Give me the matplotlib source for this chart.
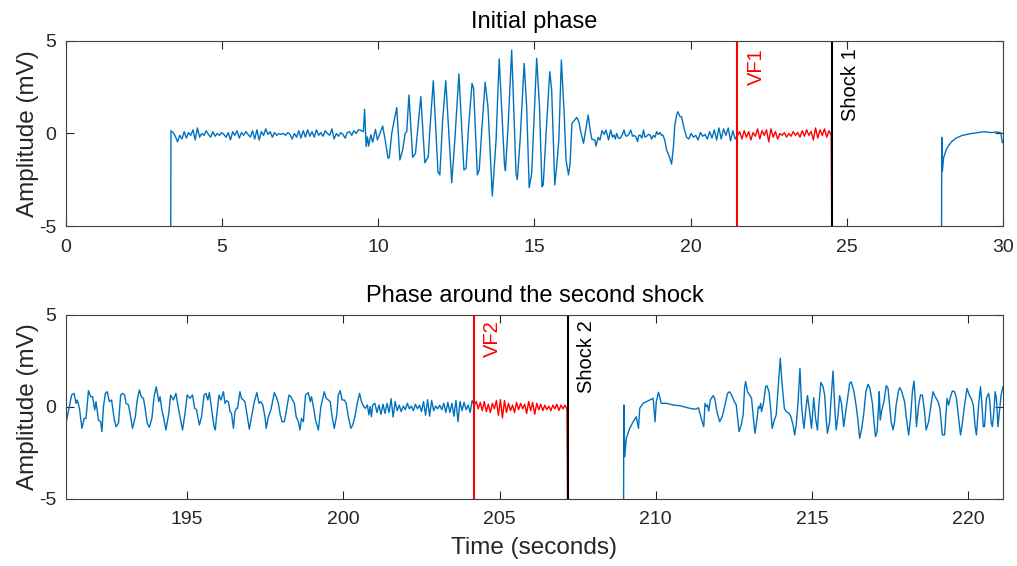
import numpy as np
import matplotlib
matplotlib.use("Agg")
import matplotlib.pyplot as plt

plt.rcParams['font.family'] = ['Liberation Sans', 'DejaVu Sans']
plt.rcParams['axes.unicode_minus'] = False

BLUE = '#0072BD'

# ---------------- top panel: initial phase (time in s, amplitude in mV) ----------------
vf1_time = 21.5
shock1_time = 24.53

top_onset_t = [3.35]
top_onset_v = [-8.0]

# low-level baseline before the arrhythmia, evenly sampled between the span ends
top_base_span = (3.36, 9.36)
top_base_v = [0.15, 0.05, -0.15, -0.45, -0.1, -0.3, 0.1, -0.25, 0.05, -0.1, 0.2, -0.35, 0.3, -0.2,
              0.0, -0.1, 0.15, -0.05, -0.2, 0.1, -0.15, 0.0, -0.1, 0.05, -0.05, -0.2, 0.05, -0.35,
              0.1, -0.1, 0.15, -0.25, 0.05, -0.1, 0.1, -0.05, -0.2, 0.15, -0.3, 0.2, -0.35, 0.1,
              -0.1, 0.25, -0.05, 0.1, -0.2, 0.05, -0.1, 0.0, -0.05, 0.0, -0.1, 0.05, -0.05, -0.3,
              0.0, -0.2, 0.15, -0.25, 0.15, -0.2, 0.2, -0.15, 0.1, -0.2, 0.2, -0.1, 0.05, -0.15,
              0.15, 0.0, -0.1, 0.25, -0.3, 0.0, -0.15, 0.05, -0.05, -0.25, 0.05, 0.1, -0.1, 0.15,
              0.0, 0.2]

# large oscillations 9.4 - 17.4 s
top_vt_t = [9.41, 9.52, 9.56, 9.61, 9.65, 9.69, 9.76, 9.82, 9.91, 9.97, 10.03, 10.14, 10.22, 10.31,
            10.35, 10.43, 10.48, 10.59, 10.69, 10.78, 10.86, 10.91, 10.98, 11.10, 11.19, 11.25,
            11.36, 11.49, 11.60, 11.65, 11.76, 11.91, 11.97, 12.06, 12.16, 12.35, 12.45, 12.58,
            12.74, 12.81, 12.89, 13.00, 13.05, 13.17, 13.23, 13.32, 13.42, 13.51, 13.65, 13.77,
            13.87, 14.04, 14.07, 14.16, 14.27, 14.41, 14.45, 14.54, 14.67, 14.75, 14.83, 14.91,
            15.07, 15.16, 15.24, 15.28, 15.39, 15.49, 15.55, 15.65, 15.71, 15.78, 15.86, 15.95,
            16.01, 16.09, 16.14, 16.20, 16.27, 16.35, 16.42, 16.48, 16.57, 16.63, 16.72, 16.78,
            16.84, 16.93, 16.97, 17.04, 17.10, 17.16, 17.23, 17.29]
top_vt_v = [0.19, 0.1, 1.31, -0.71, -0.18, -0.68, -0.07, -0.47, 0.22, -0.35, -0.08, 0.40, -0.35, -1.34,
            -1.29, 0.01, 0.46, 1.40, -1.43, -0.89, 0.01, 0.1, 2.08, -1.29, -1.07, 0.01,
            1.99, -1.58, -1.25, 0.19, 2.85, -2.06, -2.24, 0.73, 2.85, -2.66, -0.35, 3.22,
            -1.97, -1.88, 0.37, 2.71, 2.44, -2.24, -1.97, 0.37, 2.77, 1.45, -3.38, -0.35,
            4.03, -1.70, -2.01, 0.55, 4.51, -2.19, -2.49, -0.35, 3.79, 1.45, -2.93, -2.16,
            4.06, 1.45, -2.87, -2.78, 0.55, 3.34, 2.35, -2.78, -1.79, -0.35, 3.97, 1.09,
            -1.43, -2.24, -1.61, 0.55, 0.69, 0.87, 0.64, 0.1, -0.53, 0.1, 1.0, 0.19,
            -0.32, -0.35, -0.68, -0.21, -0.35, 0.16, -0.05, 0.19]

top_mid_t = [17.37, 17.44, 17.50, 17.55, 17.59, 17.63, 17.69, 17.74, 17.80, 17.87, 17.91, 17.95, 18.02,
             18.08, 18.14, 18.19, 18.25, 18.30, 18.34, 18.38, 18.44, 18.49, 18.54, 18.59, 18.65,
             18.70, 18.75, 18.81, 18.86, 18.91, 18.96, 19.02, 19.07, 19.11, 19.17, 19.23, 19.32,
             19.39, 19.45, 19.49, 19.55, 19.59, 19.66, 19.71, 19.76, 19.82, 19.87]
top_mid_v = [-0.35, 0.19, -0.2, -0.08, -0.3, 0.0, -0.25, -0.27, -0.1, 0.19, -0.1, -0.15, -0.05,
             0.19, -0.15, -0.1, -0.2, -0.44, -0.1, -0.08, -0.25, 0.19, -0.2, -0.15, -0.05,
             -0.08, -0.3, -0.1, -0.2, 0.1, -0.05, 0.05, -0.1, -0.08, -0.35, -0.89, -1.25,
             -1.65, -0.7, 0.40, 1.0, 1.18, 0.91, 0.9, 0.5, 0.1, -0.2]

top_pre_vf_span = (19.94, 21.5)
top_pre_vf_v = [-0.3, 0.0, -0.2, -0.1, -0.35, 0.05, -0.15, -0.05, -0.3, 0.1, -0.25, 0.2, -0.35,
                0.3, -0.3, 0.25, -0.1, 0.3, -0.4, 0.15, -0.3, -0.1]

top_vf_span = (21.5, 24.5)
top_vf_v = [-0.1, 0.1, -0.3, 0.15, -0.2, 0.1, -0.35, 0.05, -0.15, 0.25, -0.3, 0.15, -0.1, 0.2, -0.45,
            0.25, -0.2, 0.1, -0.3, 0.0, -0.1, 0.05, -0.2, 0.0, -0.15, 0.1, -0.1, 0.05, -0.2, 0.15,
            -0.15, 0.2, -0.1, 0.1, -0.35, 0.3, -0.25, 0.2, -0.1, 0.25, -0.2, 0.15, -0.1]
top_vf_end_t = [24.53]
top_vf_end_v = [-8.0]

top_post_t = [28.03, 28.04, 28.06, 28.1, 28.2, 28.35, 28.5, 28.7, 29.0, 29.2, 29.4, 29.6, 29.8,
              29.93, 29.98, 30.0]
top_post_v = [-8.0, -0.2, -2.05, -1.3, -0.8, -0.45, -0.25, -0.1, 0.0, 0.05, 0.1, 0.05, 0.08,
              0.05, -0.5, -0.45]

# ---------------- bottom panel: around the second shock ----------------
vf2_time = 204.19
shock2_time = 207.19

bot_pre_t = [191.12, 191.30, 191.38, 191.44, 191.48, 191.55, 191.63, 191.70, 191.76, 191.84,
             191.91, 191.97, 192.04, 192.08, 192.16, 192.23, 192.27, 192.32, 192.38, 192.44,
             192.51, 192.58, 192.66, 192.72, 192.80, 192.87, 192.93, 193.00, 193.04, 193.12,
             193.19, 193.25, 193.34, 193.40, 193.47, 193.53, 193.60, 193.66, 193.72, 193.79,
             193.87, 193.94, 194.01, 194.09, 194.13, 194.19, 194.26, 194.32, 194.41, 194.47,
             194.56, 194.64, 194.70, 194.77, 194.85, 194.93, 195.00, 195.09, 195.17, 195.24,
             195.30, 195.39, 195.46, 195.54, 195.60, 195.66, 195.71, 195.78, 195.86, 195.90,
             195.94, 196.02, 196.08, 196.16, 196.21, 196.26, 196.32, 196.37, 196.42, 196.48,
             196.53, 196.58, 196.61, 196.69, 196.74, 196.80, 196.85, 196.90, 196.99, 197.06,
             197.15, 197.23, 197.30, 197.36, 197.42, 197.49, 197.53, 197.60, 197.68, 197.79,
             197.85, 197.92, 197.98, 198.04, 198.11, 198.18, 198.26, 198.32, 198.36, 198.43,
             198.49, 198.56, 198.61, 198.66, 198.72, 198.79, 198.88, 198.94, 198.98, 199.05,
             199.11, 199.20, 199.28, 199.39, 199.45, 199.52, 199.58, 199.64, 199.71, 199.79,
             199.84, 199.90, 199.96, 200.03, 200.09, 200.16, 200.24, 200.30, 200.37, 200.45,
             200.52, 200.58, 200.65, 200.71, 200.77, 200.82, 200.86, 200.90, 200.94, 201.01]
bot_pre_v = [-0.89, 0.65, 0.74, 0.20, 0.38, -0.07, -1.16, -0.62, -0.62, 0.89,
             0.56, 0.56, -0.16, 0.29, -0.71, -0.80, -1.34, 0.02, 0.74, 0.83,
             0.29, 0.38, -0.62, -1.07, -0.89, 0.65, 0.74, 0.65, 0.20, 0.11,
             -0.53, -1.16, -0.53, 0.38, 0.92, 0.56, 0.47, -0.16, -0.89, -1.10,
             -0.62, 0.56, 1.10, 0.29, 0.56, -0.16, -0.71, -1.25, -0.35, 0.65,
             0.38, 0.74, 0.11, -0.53, -1.25, -0.35, 0.65, 0.47, 0.65, -0.07,
             -0.16, -0.98, -0.53, 0.65, 0.74, 0.38, 0.78, -0.07, -1.07, -1.25,
             -0.53, 0.65, 0.38, 0.83, 0.20, 0.34, 0.29, -0.25, -0.35, -1.16,
             -0.25, -0.07, -0.07, 0.83, 0.47, 0.38, 0.29, -0.25, -1.21, -0.53,
             0.29, 0.78, 0.20, 0.29, 0.11, -0.53, -1.16, -0.53, -0.16, 0.78,
             0.56, 0.20, -0.43, -0.80, -0.80, -0.16, 0.65, 0.56, 0.42, 0.20,
             -0.53, -0.80, -1.25, -0.62, -0.80, 0.65, 0.78, 0.29, 0.56, -0.07,
             -0.71, -1.25, 0.02, 0.83, 0.47, 0.38, 0.29, -0.53, -1.16, -0.43,
             0.65, 0.89, 0.38, 0.38, 0.20, -0.53, -1.16, -0.98, -0.53, 0.23,
             0.74, 0.29, 0.02, -0.07, 0.11, -0.43, 0.02, -0.53, 0.11, 0.20]

bot_pre_vf_span = (201.01, 204.19)
bot_pre_vf_v = [0.2, -0.3, 0.1, -0.4, 0.15, -0.35, 0.2, -0.3, 0.45, -0.55, 0.3, -0.2, 0.1, -0.25,
                0.05, -0.15, 0.2, -0.1, 0.05, -0.2, 0.15, -0.1, 0.1, -0.25, 0.3, -0.45, 0.4, -0.5,
                0.35, -0.2, 0.05, -0.1, 0.1, -0.15, 0.2, -0.3, 0.25, -0.3, 0.2, -0.5, 0.35, -0.8,
                0.3, -0.2, 0.25, -0.15, 0.1, -0.3, 0.35, 0.1]

bot_vf_span = (204.19, 207.16)
bot_vf_v = [0.1, 0.3, -0.1, 0.25, -0.2, 0.3, -0.25, 0.15, -0.3, 0.2, -0.1, 0.35, -0.45, 0.4, -0.6,
            0.35, -0.3, 0.2, -0.2, 0.1, -0.3, 0.25, -0.15, 0.2, -0.1, 0.15, -0.35, 0.3, -0.2, 0.25,
            -0.4, 0.2, -0.15, 0.15, -0.2, 0.1, -0.15, 0.05, -0.2, 0.1, -0.1, 0.15, -0.2, 0.1, -0.1,
            0.1, -0.1]
bot_vf_end_t = [207.19]
bot_vf_end_v = [-8.0]

bot_post_t = [208.97, 208.98, 209.01, 209.06, 209.17, 209.28, 209.38, 209.45, 209.49, 209.60,
              209.70, 209.81, 209.92, 209.98, 210.02, 210.09, 210.18, 210.34, 210.56, 210.77,
              211.09, 211.20, 211.30, 211.37, 211.43, 211.49, 211.54, 211.58, 211.62, 211.66,
              211.70, 211.75, 211.84, 211.89, 211.96, 212.05, 212.13, 212.22, 212.30, 212.37,
              212.43, 212.52, 212.58, 212.67, 212.74, 212.80, 212.85, 212.88, 212.94, 213.01,
              213.07, 213.14, 213.18, 213.24, 213.29, 213.33, 213.36, 213.39, 213.46, 213.52,
              213.56, 213.63, 213.69, 213.73, 213.80, 213.86, 213.93, 213.99, 214.05, 214.12,
              214.18, 214.27, 214.33, 214.40, 214.45, 214.50, 214.56, 214.62, 214.67, 214.72,
              214.75, 214.80, 214.86, 214.93, 214.99, 215.06, 215.12, 215.18, 215.23, 215.29,
              215.36, 215.41, 215.46, 215.50, 215.57, 215.61, 215.68, 215.74, 215.78, 215.84,
              215.89, 215.95, 216.02, 216.13, 216.21, 216.26, 216.35, 216.43, 216.48, 216.53,
              216.60, 216.67, 216.73, 216.80, 216.86, 216.94, 216.99, 217.04, 217.09, 217.14,
              217.16, 217.19, 217.24, 217.31, 217.38, 217.44, 217.50, 217.54, 217.60, 217.65,
              217.70, 217.78, 217.82, 217.88, 217.97, 218.03, 218.10, 218.16, 218.22, 218.27,
              218.31, 218.35, 218.42, 218.48, 218.54, 218.61, 218.66, 218.74, 218.80, 218.88,
              218.95, 219.04, 219.10, 219.18, 219.25, 219.30, 219.33, 219.38, 219.44, 219.50,
              219.57, 219.63, 219.70, 219.76, 219.82, 219.89, 219.97, 220.04, 220.10, 220.17,
              220.23, 220.27, 220.34, 220.40, 220.44, 220.49, 220.53, 220.59, 220.66, 220.70,
              220.74, 220.78, 220.83, 220.87, 220.91, 220.96, 221.02, 221.06, 221.12]
bot_post_v = [-8.0, 0.11, -2.70, -1.70, -1.16, -0.80, -0.53, -1.16, -0.07, 0.20,
              0.29, 0.38, 0.47, -0.80, 0.29, 0.80, 0.20, 0.20, 0.11, 0.07,
              -0.07, -0.11, -0.11, -0.04, -0.43, -0.80, -1.07, 0.20, 0.02, 0.11,
              -0.22, 0.38, 0.62, 0.47, -0.25, -0.80, -0.53, 0.11, 0.74, 0.83,
              0.65, 0.29, 0.11, -1.34, -0.98, -0.43, 1.10, 1.38, 0.83, 0.65,
              0.47, -0.80, -1.43, -0.71, 0.02, -0.07, 0.20, -0.25, 0.29, 1.10,
              1.16, 0.83, -0.25, -1.16, -0.71, -0.43, 1.20, 2.65, 1.20, -0.07,
              -0.25, -0.34, -0.53, -0.98, -1.52, -0.98, 0.29, 2.10, 0.11, -0.80,
              -1.16, -0.25, 0.62, -0.25, -1.16, 0.51, -0.62, -1.25, 0.20, 1.34,
              1.10, 0.65, -0.62, -1.43, -0.80, 0.29, 1.96, -0.25, -1.25, -0.43,
              0.62, 0.20, -1.07, 0.29, 1.28, 1.37, 0.83, -0.07, -0.80, -1.70,
              -1.16, -0.25, 0.83, 1.23, 1.01, 0.20, -0.80, -1.61, -1.34, 0.11,
              0.83, -0.71, -0.16, 0.29, 1.16, 1.01, -0.07, -0.80, -1.25, -0.80,
              0.11, 0.92, 1.05, 0.83, 0.29, -0.62, -1.52, -0.62, 0.83, 1.41,
              0.47, -1.07, 0.11, 0.65, 0.65, -0.25, -1.25, -0.80, -0.07, 0.83,
              0.56, 0.29, -0.07, -1.52, -1.52, -0.25, 0.47, 0.11, 0.56, 0.87,
              0.83, 0.47, -0.62, -1.52, -0.89, 0.11, 1.01, 0.65, 0.47, 0.11,
              -1.07, -1.52, 0.11, 1.10, 0.29, -1.07, -1.07, 0.47, 0.74, 0.29,
              -0.80, -1.07, -0.25, 0.83, 0.47, -1.07, -0.07, 0.65, 1.10]


def sampled(span, values):
    return list(np.linspace(span[0], span[1], len(values))), list(values)


def style_axes(ax):
    for s in ax.spines.values():
        s.set_color('#404040')
        s.set_linewidth(0.8)
    ax.tick_params(direction='in', top=True, right=True, length=6, width=0.8,
                   colors='#262626', labelsize=14)
    ax.tick_params(axis='x', pad=9)
    ax.tick_params(axis='y', pad=7)
    ax.set_ylim(-5, 5)
    ax.set_yticks([-5, 0, 5])
    ax.set_ylabel('Amplitude (mV)', fontsize=17.5, color='#262626', labelpad=0)


fig = plt.figure(figsize=(10.17, 5.66), dpi=100)
ax1 = fig.add_axes([0.0649, 0.6007, 0.9213, 0.3269])
ax2 = fig.add_axes([0.0649, 0.1184, 0.9213, 0.3251])

# top panel
bt, bv = sampled(top_base_span, top_base_v)
pt, pv = sampled(top_pre_vf_span, top_pre_vf_v)
blue_t = top_onset_t + bt + top_vt_t + top_mid_t + pt
blue_v = top_onset_v + bv + top_vt_v + top_mid_v + pv
rt, rv = sampled(top_vf_span, top_vf_v)
ax1.plot(blue_t, blue_v, color=BLUE, lw=1.0)
ax1.plot(rt + top_vf_end_t, rv + top_vf_end_v, color='r', lw=1.0)
ax1.plot(top_post_t, top_post_v, color=BLUE, lw=1.0)
ax1.axvline(vf1_time, color='r', lw=1.5)
ax1.axvline(shock1_time, color='k', lw=1.5)
ax1.text(vf1_time + 0.3, 4.6, 'VF1', rotation=90, color='r', fontsize=14.5, ha='left', va='top')
ax1.text(shock1_time + 0.3, 4.6, 'Shock 1', rotation=90, color='k', fontsize=14.5,
         ha='left', va='top')
ax1.set_xlim(0, 30)
ax1.set_xticks(range(0, 31, 5))
ax1.set_title('Initial phase', fontsize=17, color='black', pad=9)
style_axes(ax1)

# bottom panel
pt, pv = sampled(bot_pre_vf_span, bot_pre_vf_v)
rt, rv = sampled(bot_vf_span, bot_vf_v)
ax2.plot(bot_pre_t + pt, bot_pre_v + pv, color=BLUE, lw=1.0)
ax2.plot(rt + bot_vf_end_t, rv + bot_vf_end_v, color='r', lw=1.0)
ax2.plot(bot_post_t, bot_post_v, color=BLUE, lw=1.0)
ax2.axvline(vf2_time, color='r', lw=1.5)
ax2.axvline(shock2_time, color='k', lw=1.5)
ax2.text(vf2_time + 0.28, 4.7, 'VF2', rotation=90, color='r', fontsize=14.5, ha='left', va='top')
ax2.text(shock2_time + 0.28, 4.7, 'Shock 2', rotation=90, color='k', fontsize=14.5,
         ha='left', va='top')
ax2.set_xlim(191.12, 221.12)
ax2.set_xticks(range(195, 221, 5))
ax2.set_title('Phase around the second shock', fontsize=17, color='black', pad=9)
ax2.set_xlabel('Time (seconds)', fontsize=17.5, color='#262626', labelpad=6)
style_axes(ax2)

fig.savefig('out.png', dpi=100)
